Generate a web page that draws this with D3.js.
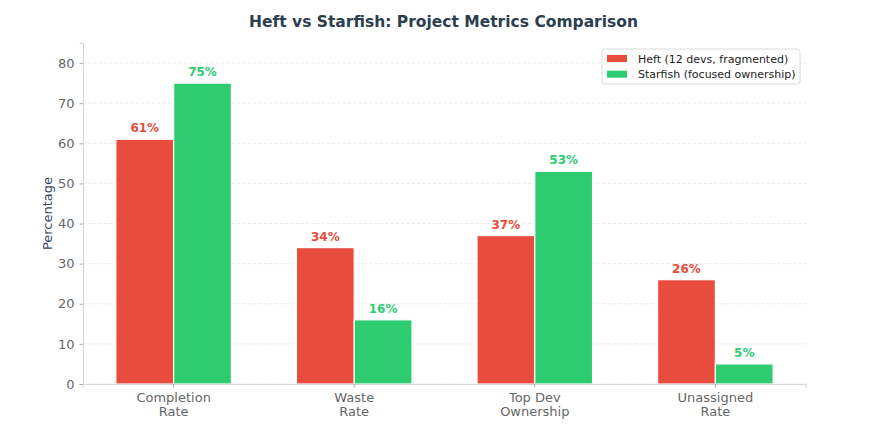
<!DOCTYPE html>
<html>
<head>
<meta charset="utf-8">
<script src="https://cdn.jsdelivr.net/npm/d3@7"></script>
<style>
  body { margin: 0; background: #fff; }
  svg { font-family: "DejaVu Sans", sans-serif; display: block; }
</style>
</head>
<body>
<svg id="chart"></svg>
<script>
// data
var categories = [["Completion", "Rate"], ["Waste", "Rate"], ["Top Dev", "Ownership"], ["Unassigned", "Rate"]];
var seriesNames = ["Heft (12 devs, fragmented)", "Starfish (focused ownership)"];
var heftValues = [61, 34, 37, 26];
var starfishValues = [75, 16, 53, 5];
var yTicks = [0, 10, 20, 30, 40, 50, 60, 70, 80];

var colors = ["#e74c3c", "#2ecc71"];
var width = 887, height = 440;
var margin = { left: 83, right: 81, top: 43, bottom: 56 };

var svg = d3.select("#chart")
  .attr("width", width)
  .attr("height", height);

var x0 = d3.scaleBand()
  .domain(d3.range(categories.length))
  .range([margin.left, width - margin.right])
  .paddingInner(0.36)
  .paddingOuter(0.182);

var x1 = d3.scaleBand()
  .domain([0, 1])
  .range([0, x0.bandwidth()])
  .padding(0);

var y = d3.scaleLinear()
  .domain([0, 85])
  .range([height - margin.bottom, margin.top]);

// grid
svg.append("g")
  .selectAll("line")
  .data(yTicks)
  .enter()
  .append("line")
  .attr("x1", margin.left)
  .attr("x2", width - margin.right)
  .attr("y1", d => y(d))
  .attr("y2", d => y(d))
  .attr("stroke", "#e6e6e6")
  .attr("stroke-width", 0.8)
  .attr("stroke-dasharray", "3.5,1.8");

// bars
var rows = categories.map((c, i) => [heftValues[i], starfishValues[i]]);

var groups = svg.append("g")
  .selectAll("g")
  .data(rows)
  .enter()
  .append("g")
  .attr("transform", (d, i) => `translate(${x0(i)},0)`);

groups.selectAll("rect")
  .data(d => d)
  .enter()
  .append("rect")
  .attr("x", (d, j) => x1(j))
  .attr("y", d => y(d))
  .attr("width", x1.bandwidth())
  .attr("height", d => y(0) - y(d))
  .attr("fill", (d, j) => colors[j])
  .attr("stroke", "#fff")
  .attr("stroke-width", 1.2);

groups.selectAll("text")
  .data(d => d)
  .enter()
  .append("text")
  .attr("x", (d, j) => x1(j) + x1.bandwidth() / 2)
  .attr("y", d => y(d) - 7)
  .attr("text-anchor", "middle")
  .attr("font-size", 12)
  .attr("font-weight", "bold")
  .attr("fill", (d, j) => colors[j])
  .text(d => d + "%");

// axes
var yAxis = svg.append("g")
  .attr("transform", `translate(${margin.left},0)`)
  .call(d3.axisLeft(y).tickValues(yTicks).tickSize(3.5).tickPadding(5));

var xAxis = svg.append("g")
  .attr("transform", `translate(0,${y(0)})`)
  .call(d3.axisBottom(x0).tickSize(3.5).tickFormat(""));

[yAxis, xAxis].forEach(g => {
  g.select(".domain").attr("stroke", "#d5d5d5").attr("stroke-width", 1);
  g.selectAll(".tick line").attr("stroke", "#999").attr("stroke-width", 0.8);
  g.selectAll(".tick text").attr("fill", "#666").attr("font-size", 13).attr("font-family", "DejaVu Sans");
});

xAxis.selectAll(".tick").each(function (d) {
  var t = d3.select(this).append("text")
    .attr("fill", "#666")
    .attr("font-size", 13)
    .attr("font-family", "DejaVu Sans")
    .attr("text-anchor", "middle");
  categories[d].forEach((line, k) => {
    t.append("tspan").attr("x", 0).attr("y", 18 + k * 14).text(line);
  });
});

// title + y label
svg.append("text")
  .attr("x", width / 2)
  .attr("y", 27)
  .attr("text-anchor", "middle")
  .attr("font-size", 15.5)
  .attr("font-weight", "bold")
  .attr("fill", "#2c3e50")
  .text("Heft vs Starfish: Project Metrics Comparison");

svg.append("text")
  .attr("transform", `translate(52,${(margin.top + y(0)) / 2}) rotate(-90)`)
  .attr("text-anchor", "middle")
  .attr("font-size", 13)
  .attr("fill", "#34495e")
  .text("Percentage");

// legend
var legend = svg.append("g").attr("transform", "translate(602,49)");
legend.append("rect")
  .attr("width", 198)
  .attr("height", 35)
  .attr("rx", 2.5)
  .attr("fill", "#fff")
  .attr("stroke", "#d0d0d0")
  .attr("stroke-width", 0.8);

var items = legend.selectAll("g.item")
  .data(seriesNames)
  .enter()
  .append("g")
  .attr("class", "item")
  .attr("transform", (d, i) => `translate(5,${9.5 + i * 15.7})`);

items.append("rect")
  .attr("width", 20)
  .attr("height", 7)
  .attr("y", -3.5)
  .attr("fill", (d, i) => colors[i]);

items.append("text")
  .attr("x", 31)
  .attr("y", 4)
  .attr("font-size", 11)
  .attr("fill", "#222")
  .text(d => d);
</script>
</body>
</html>
